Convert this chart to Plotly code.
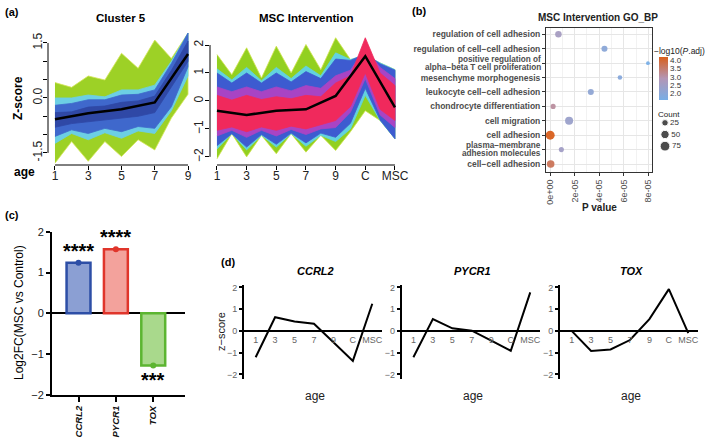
import numpy as np
import plotly.graph_objects as go

W, H = 709, 446
FONT = "Liberation Sans, Arial, sans-serif"


def fx(p):
    return p / W


def fy(p):
    return 1 - p / H


# ---- panel (a) Cluster 5: envelopes of the member profiles
c5_time = [1, 2, 3, 4, 5, 6, 7, 8, 9]
c5_ticks = [1, 3, 5, 7, 9]
c5_green_hi = [0.42, 0.29, 0.60, 0.49, 1.22, 0.81, 1.58, 1.08, 1.77]
c5_green_lo = [-1.78, -1.19, -1.73, -1.19, -1.60, -1.14, -1.42, -0.55, 0.10]
c5_cyan_hi = [0.00, 0.00, 0.08, 0.03, 0.22, 0.22, 0.35, 1.00, 1.77]
c5_cyan_lo = [-1.24, -0.97, -1.14, -0.95, -1.10, -0.90, -0.97, -0.35, 0.60]
c5_blue_hi = [-0.20, -0.15, -0.05, -0.05, 0.08, 0.10, 0.22, 0.94, 1.77]
c5_blue_lo = [-1.05, -0.87, -0.97, -0.83, -0.92, -0.78, -0.83, -0.24, 0.85]
c5_core_hi = [-0.40, -0.38, -0.25, -0.22, -0.12, -0.08, 0.05, 0.75, 1.55]
c5_core_lo = [-0.80, -0.70, -0.65, -0.58, -0.55, -0.50, -0.40, 0.30, 1.00]
c5_mean = [-0.58, -0.42, -0.31, -0.12, 1.20]

# ---- panel (a) MSC Intervention
msc_pos = [1, 2, 3, 4, 5, 6, 7, 8, 9, 10, 11, 12, 13]
msc_ticks = [1, 3, 5, 7, 9, 11, 13]
msc_ticktext = ["1", "3", "5", "7", "9", "C", "MSC"]
msc_green_hi = [1.66, 0.94, 1.90, 0.82, 1.96, 1.00, 2.02, 1.12, 2.26, 1.48, 1.60, 1.36, 1.12]
msc_green_lo = [-2.07, -1.17, -2.00, -1.23, -1.89, -1.17, -1.83, -1.23, -1.77, -1.10, -0.35, -0.70, -1.35]
msc_cyan_hi = [1.15, 0.75, 1.20, 0.72, 1.20, 0.80, 1.25, 0.90, 1.72, 1.48, 1.65, 1.36, 1.12]
msc_cyan_lo = [-1.72, -1.17, -1.75, -1.23, -1.65, -1.17, -1.62, -1.23, -1.45, -1.00, 0.20, -0.70, -1.35]
msc_blue_hi = [1.00, 0.64, 1.00, 0.64, 1.00, 0.68, 1.05, 0.80, 1.50, 1.45, 1.68, 1.33, 1.10]
msc_blue_lo = [-1.60, -1.17, -1.65, -1.20, -1.55, -1.15, -1.50, -1.15, -1.30, -0.80, 0.45, -0.68, -1.35]
msc_purple_hi = [0.50, 0.33, 0.50, 0.33, 0.50, 0.36, 0.55, 0.45, 0.90, 1.10, 1.90, 1.20, 0.80]
msc_purple_lo = [-1.25, -1.05, -1.30, -1.05, -1.25, -1.02, -1.20, -1.00, -0.95, -0.40, 0.80, -0.50, -0.95]
msc_red_hi = [0.20, 0.03, 0.20, 0.05, 0.15, 0.08, 0.20, 0.15, 0.64, 0.90, 2.26, 1.00, 0.55]
msc_red_lo = [-1.05, -0.93, -1.10, -0.93, -1.05, -0.90, -1.00, -0.85, -0.70, -0.20, 1.00, -0.30, -0.70]
msc_mean = [-0.35, -0.50, -0.35, -0.30, 0.18, 1.60, -0.23]

# ---- panel (b) GO_BP dot plot (top to bottom)
go_terms = [
    "regulation of cell adhesion",
    "regulation of cell\u2212cell adhesion",
    "positive regulation of<br>alpha\u2212beta T cell proliferation",
    "mesenchyme morphogenesis",
    "leukocyte cell\u2212cell adhesion",
    "chondrocyte differentiation",
    "cell migration",
    "cell adhesion",
    "plasma\u2212membrane<br>adhesion molecules",
    "cell\u2212cell adhesion",
]
go_pvalue = [6.8e-6, 4.43e-5, 7.97e-5, 5.69e-5, 3.32e-5, 2.5e-6, 1.55e-5, 1e-7, 9.2e-6, 5e-7]
go_logpadj = [2.6, 2.0, 1.6, 1.9, 2.1, 3.1, 2.35, 4.2, 2.5, 3.7]
go_count = [25, 20, 4, 8, 20, 12, 45, 60, 12, 38]
p_ticks = [0, 2e-5, 4e-5, 6e-5, 8e-5]
p_ticktext = ["0e+00", "2e-05", "4e-05", "6e-05", "8e-05"]
p_minor = [1e-5, 3e-5, 5e-5, 7e-5]
count_breaks = [25, 50, 75]
cb_ticks = [2.0, 2.5, 3.0, 3.5, 4.0]

# ---- panel (c) bars
genes = ["CCRL2", "PYCR1", "TOX"]
log2fc = [1.24, 1.57, -1.28]
stars = ["****", "****", "***"]
bar_fill = ["#8b9fd3", "#f3a29c", "#a9d98c"]
bar_edge = ["#2d4ea6", "#e0352b", "#5cb531"]

# ---- panel (d) gene z-score profiles
d_stages = ["1", "3", "5", "7", "9", "C", "MSC"]
z_ccrl2 = [-1.21, 0.63, 0.43, 0.33, -0.52, -1.38, 1.25]
z_pycr1 = [-1.21, 0.54, 0.12, 0.01, -0.45, -0.91, 1.77]
z_tox = [0.0, -0.92, -0.85, -0.42, 0.54, 1.92, -0.10]


def count_px(c):
    return 2.0 + 0.9 * np.sqrt(np.asarray(c, dtype=float))


fig = go.Figure()


def band(xs, hi, lo, color, edge, xa, ya):
    fig.add_trace(go.Scatter(
        x=list(xs) + list(xs)[::-1], y=list(hi) + list(lo)[::-1],
        fill="toself", fillcolor=color, mode="lines",
        line=dict(color=edge, width=0.8), hoverinfo="skip",
        showlegend=False, xaxis=xa, yaxis=ya))


band(c5_time, c5_green_hi, c5_green_lo, "#9dd126", "#d6e65a", "x", "y")
band(c5_time, c5_cyan_hi, c5_cyan_lo, "#6ccfe4", "#6ccfe4", "x", "y")
band(c5_time, c5_blue_hi, c5_blue_lo, "#3f68cc", "#3f68cc", "x", "y")
band(c5_time, c5_core_hi, c5_core_lo, "#2f48a6", "#2f48a6", "x", "y")
fig.add_trace(go.Scatter(x=c5_ticks, y=c5_mean, mode="lines",
                         line=dict(color="black", width=2.5),
                         showlegend=False, hoverinfo="skip", xaxis="x", yaxis="y"))

band(msc_pos, msc_green_hi, msc_green_lo, "#92d020", "#cfe24c", "x2", "y2")
band(msc_pos, msc_cyan_hi, msc_cyan_lo, "#62d2e0", "#62d2e0", "x2", "y2")
band(msc_pos, msc_blue_hi, msc_blue_lo, "#3d5bd0", "#3d5bd0", "x2", "y2")
band(msc_pos, msc_purple_hi, msc_purple_lo, "#a844c4", "#a844c4", "x2", "y2")
band(msc_pos, msc_red_hi, msc_red_lo, "#f0295c", "#f0295c", "x2", "y2")
fig.add_trace(go.Scatter(x=msc_ticks, y=msc_mean, mode="lines",
                         line=dict(color="black", width=2.5),
                         showlegend=False, hoverinfo="skip", xaxis="x2", yaxis="y2"))

# panel (b)
n_terms = len(go_terms)
term_y = [n_terms - 1 - i for i in range(n_terms)]
fig.add_trace(go.Scatter(
    x=go_pvalue, y=term_y, mode="markers", xaxis="x3", yaxis="y3",
    showlegend=False, hoverinfo="skip",
    marker=dict(
        size=count_px(go_count), color=go_logpadj, cmin=1.6, cmax=4.2,
        colorscale=[[0, "#78aee6"], [0.5, "#b396b6"], [1, "#d85f1c"]],
        line=dict(width=0), opacity=0.95,
        colorbar=dict(
            x=fx(659), xanchor="left", y=fy(57), yanchor="top",
            lenmode="pixels", len=43, thickness=9, outlinewidth=0,
            tickvals=cb_ticks, ticktext=[f"{v:.1f}" for v in cb_ticks],
            ticks="", tickfont=dict(size=8, color="#333"), xpad=0, ypad=0),
    )))
# size key for Count, drawn on its own small axis
fig.add_trace(go.Scatter(
    x=[0] * len(count_breaks), y=[str(c) for c in count_breaks],
    mode="markers+text", text=[str(c) for c in count_breaks],
    textposition="middle right", textfont=dict(size=8, color="#333"),
    marker=dict(size=count_px(count_breaks), color="black"),
    xaxis="x8", yaxis="y8", showlegend=False, hoverinfo="skip"))

# panel (c)
fig.add_trace(go.Bar(
    x=genes, y=log2fc, width=0.64, xaxis="x4", yaxis="y4", showlegend=False,
    marker=dict(color=bar_fill, line=dict(color=bar_edge, width=2.5)),
    hoverinfo="skip"))
fig.add_trace(go.Scatter(
    x=genes, y=log2fc, mode="markers", xaxis="x4", yaxis="y4", showlegend=False,
    marker=dict(color=bar_edge, size=6), hoverinfo="skip"))

# panel (d)
for i, z in enumerate([z_ccrl2, z_pycr1, z_tox]):
    fig.add_trace(go.Scatter(
        x=d_stages, y=z, mode="lines", line=dict(color="black", width=2),
        xaxis=f"x{5 + i}", yaxis=f"y{5 + i}", showlegend=False, hoverinfo="skip"))

tick_font = dict(size=12, color="#222")
single_line = [("" if "<br>" in t else f"<b>{t}</b>") for t in go_terms]
layout = dict(
    width=W, height=H, margin=dict(l=0, r=0, t=0, b=0, autoexpand=False),
    template="none", paper_bgcolor="white", plot_bgcolor="white",
    font=dict(family=FONT, color="black"), showlegend=False,
    xaxis=dict(domain=[fx(48), fx(192)], range=[0.58, 9.24], anchor="y",
               tickvals=c5_ticks, ticks="outside", ticklen=4, tickcolor="black",
               ticklabelstandoff=-4,
               showgrid=False, zeroline=False, showline=False, tickfont=tick_font),
    yaxis=dict(domain=[fy(165), fy(32)], range=[-1.83, 1.8], anchor="x",
               tickvals=[-1.5, -1, -0.5, 0, 0.5, 1, 1.5],
               ticktext=["-1.5", "", "", "0.0", "", "", "1.5"], tickangle=-90,
               ticks="outside", ticklen=4, tickcolor="black", ticklabelstandoff=-4,
               showgrid=False, zeroline=False, showline=False, tickfont=tick_font),
    xaxis2=dict(domain=[fx(210), fx(400)], range=[0.53, 13.34], anchor="y2",
                tickvals=msc_ticks, ticktext=msc_ticktext, ticks="outside",
                ticklen=4, tickcolor="black", ticklabelstandoff=-4,
                showgrid=False, zeroline=False,
                showline=False, tickfont=tick_font),
    yaxis2=dict(domain=[fy(165), fy(33)], range=[-2.29, 2.43], anchor="x2",
                tickvals=[-2, -1, 0, 1, 2], tickangle=-90, ticks="outside",
                ticklen=4, tickcolor="black", ticklabelstandoff=-3,
                showgrid=False, zeroline=False,
                showline=False, tickfont=tick_font),
    xaxis3=dict(domain=[fx(546), fx(652)], range=[-3.3e-6, 8.3e-5], anchor="y3",
                tickvals=p_ticks, ticktext=p_ticktext, tickangle=-90,
                ticks="outside", ticklen=3, tickcolor="#333",
                showgrid=True, gridcolor="#e6e6e6", gridwidth=0.8,
                minor=dict(tickvals=p_minor, showgrid=True, gridcolor="#f2f2f2", gridwidth=0.6),
                zeroline=False, showline=True, mirror=True, linecolor="#333", linewidth=1,
                tickfont=dict(size=9, color="#4d4d4d")),
    yaxis3=dict(domain=[fy(172), fy(28)], range=[-0.555, 9.44], anchor="x3",
                tickvals=term_y, ticktext=single_line,
                ticks="outside", ticklen=3, tickcolor="#333",
                showgrid=True, gridcolor="#e6e6e6", gridwidth=0.8,
                zeroline=False, showline=True, mirror=True, linecolor="#333", linewidth=1,
                tickfont=dict(size=8.5, color="#4d4d4d")),
    xaxis4=dict(domain=[fx(52), fx(185)], range=[-0.71, 2.85], anchor="y4",
                type="category", tickvals=genes,
                ticktext=[f"<b><i>{g}</i></b>" for g in genes], tickangle=-90,
                ticks="outside", ticklen=5, tickwidth=2, tickcolor="black",
                showline=True, linewidth=2, linecolor="black", showgrid=False,
                zeroline=False, tickfont=dict(size=9.5, color="#111")),
    yaxis4=dict(domain=[fy(395), fy(231.7)], range=[-2, 2], anchor="x4",
                tickvals=[-2, -1, 0, 1, 2], ticks="outside", ticklen=4, tickwidth=2,
                tickcolor="black", showline=True, linewidth=2, linecolor="black",
                showgrid=False, zeroline=True, zerolinecolor="black", zerolinewidth=2,
                tickfont=dict(size=11, color="#222")),
    xaxis8=dict(domain=[fx(655), fx(705)], range=[-1, 4], anchor="y8",
                visible=False, fixedrange=True),
    yaxis8=dict(domain=[fy(152), fy(117)], range=[-0.5, 2.5], anchor="x8",
                type="category", categoryarray=[str(c) for c in count_breaks[::-1]],
                visible=False, fixedrange=True),
)

d_xdom = [[244, 382], [401.7, 540], [560, 698]]
d_yrange = [-2.21, 2.11]
d_ydom = [fy(379), fy(285)]
zero_pos = d_ydom[0] + (0 - d_yrange[0]) / (d_yrange[1] - d_yrange[0]) * (d_ydom[1] - d_ydom[0])
for i, (l, r) in enumerate(d_xdom):
    k = 5 + i
    layout[f"xaxis{k}"] = dict(
        domain=[fx(l), fx(r)], range=[-0.6, 6.5], type="category",
        categoryarray=d_stages, anchor="free", position=zero_pos,
        showline=True, linewidth=2, linecolor="black", ticks="",
        showgrid=False, zeroline=False, tickfont=dict(size=9, color="#666"))
    layout[f"yaxis{k}"] = dict(
        domain=d_ydom, range=d_yrange, anchor=f"x{k}", tickvals=[-2, -1, 0, 1, 2],
        ticks="outside", ticklen=3, tickwidth=1.5, tickcolor="black",
        showline=True, linewidth=2, linecolor="black", showgrid=False,
        zeroline=False, tickfont=dict(size=9, color="#666"))

fig.update_layout(**layout)

# axis lines of the base-R style panels (a): drawn only over the tick range
fig.add_shape(type="line", xref="x", yref="y domain", x0=min(c5_ticks), x1=max(c5_ticks),
              y0=0, y1=0, line=dict(color="black", width=1))
fig.add_shape(type="line", xref="x domain", yref="y", x0=0, x1=0, y0=-1.5, y1=1.5,
              line=dict(color="black", width=1))
fig.add_shape(type="line", xref="x2", yref="y2 domain", x0=min(msc_ticks), x1=max(msc_ticks),
              y0=0, y1=0, line=dict(color="black", width=1))
fig.add_shape(type="line", xref="x2 domain", yref="y2", x0=0, x1=0, y0=-2, y1=2,
              line=dict(color="black", width=1))


def note(text, x, y, size=11, angle=0, color="black", xanchor="center"):
    fig.add_annotation(text=text, x=fx(x), y=fy(y), xref="paper", yref="paper",
                       showarrow=False, textangle=angle, xanchor=xanchor,
                       yanchor="middle", font=dict(size=size, color=color, family=FONT))


note("<b>(a)</b>", 3, 12, 11, xanchor="left")
note("<b>(b)</b>", 410, 11, 11, xanchor="left")
note("<b>(c)</b>", 3, 215, 11, xanchor="left")
note("<b>(d)</b>", 219, 262, 11, xanchor="left")

note("<b>Cluster 5</b>", 121, 18, 11.5)
note("<b>MSC Intervention</b>", 306, 18, 11.5)
note("<b>Z-score</b>", 18, 98, 12, angle=-90)
note("<b>age</b>", 24, 172, 12)

note("<b>MSC Intervention GO_BP</b>", 598, 17, 10, color="#222")
note("<b>P value</b>", 599, 207, 10, color="#222")
note("\u2212log10(<i>P</i>.adj)", 652, 51, 8.5, color="#222", xanchor="left")
note("Count", 656, 114, 8, color="#222", xanchor="left")

# two-line GO term labels, set tight like the original
for t, yv in zip(go_terms, term_y):
    if "<br>" in t:
        for part, shift in zip(t.split("<br>"), [3.9, -3.9]):
            fig.add_annotation(text=f"<b>{part}</b>", x=fx(542), y=yv, xref="paper",
                               yref="y3", yshift=shift, showarrow=False, xanchor="right",
                               yanchor="middle", borderpad=0,
                               font=dict(size=8.2, color="#4d4d4d", family=FONT))

note("Log2FC(MSC vs Control)", 19, 313, 12, angle=-90)
for g, v, s in zip(genes, log2fc, stars):
    fig.add_annotation(text=f"<b>{s}</b>", x=g, y=v,
                       xref="x4", yref="y4", showarrow=False,
                       yshift=12 if v > 0 else -14,
                       font=dict(size=20, color="black", family=FONT))

note("z\u2212score", 221, 332, 11, angle=-90, color="#222")
for (l, r), g in zip(d_xdom, genes):
    note(f"<b><i>{g}</i></b>", (l + r) / 2 + 2, 271, 11)
    note("age", (l + r) / 2 + 2, 396, 12, color="#222")

# the page body's default 8px margin would shift the whole figure
fig.write_html("out.html", config={"displayModeBar": False},
               post_script="document.body.style.margin='0px';")
